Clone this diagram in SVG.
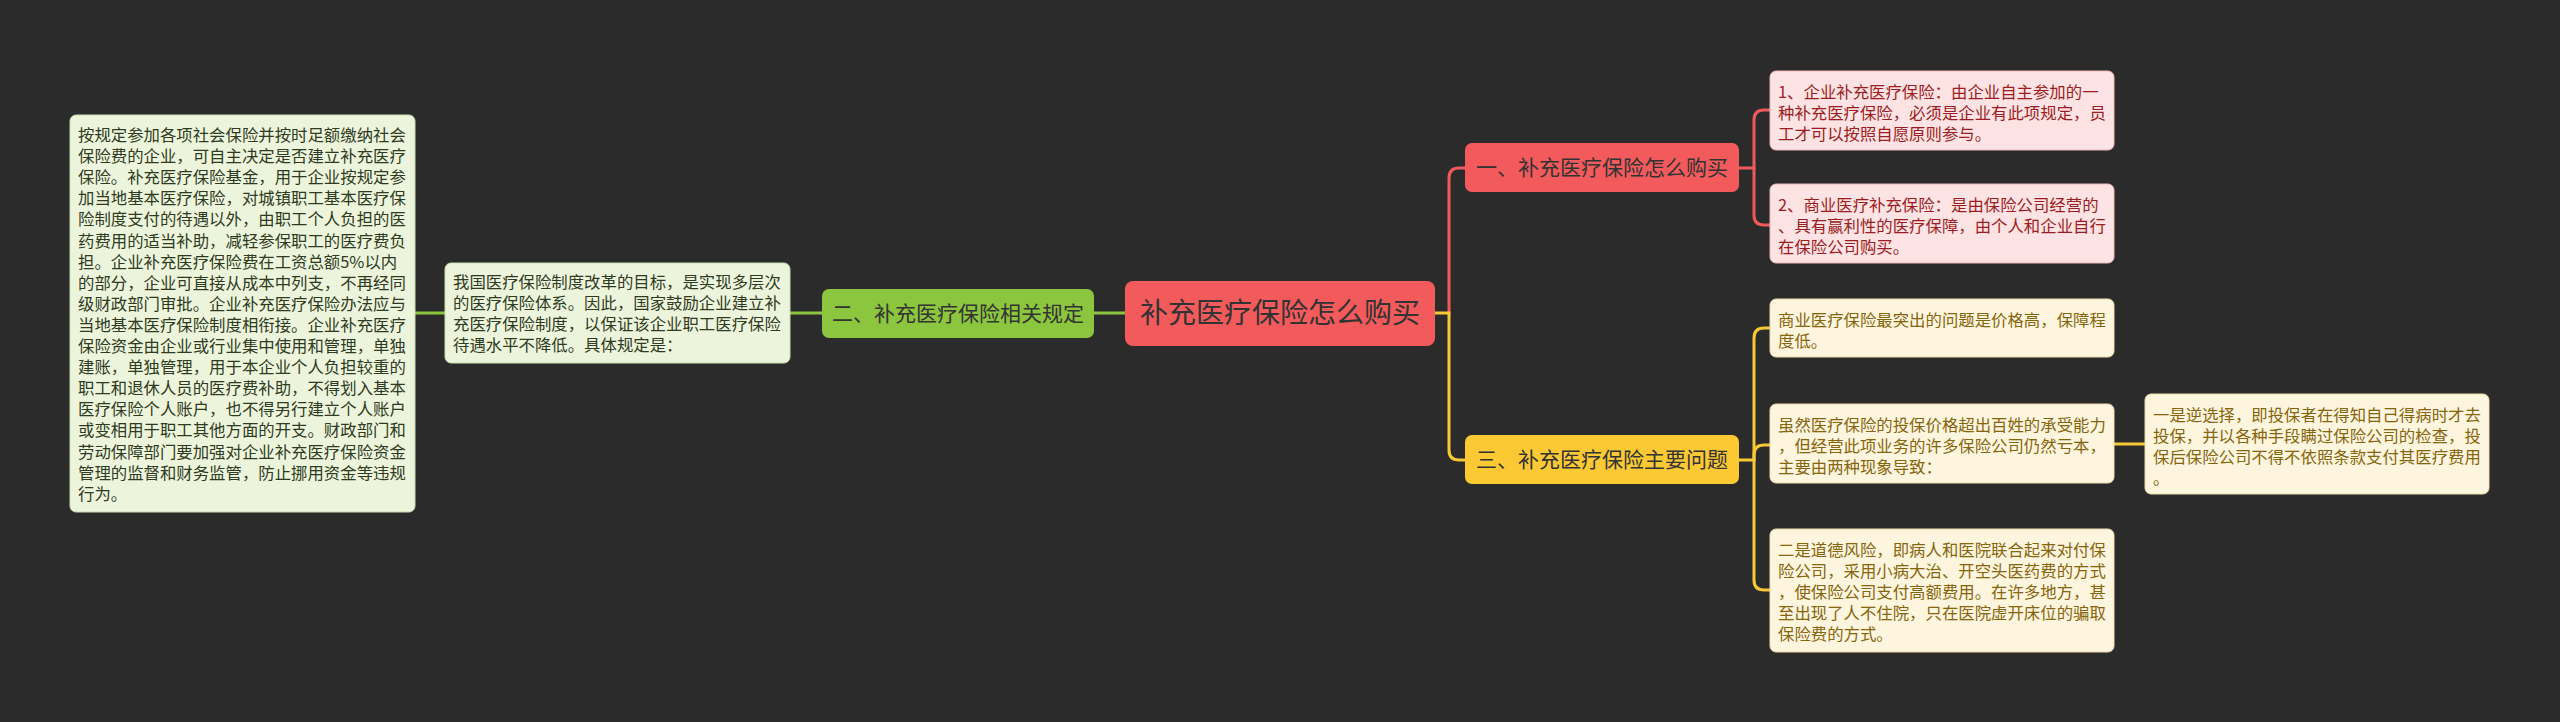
<svg xmlns="http://www.w3.org/2000/svg" width="2560" height="722" viewBox="0 0 2560 722">
<style>
text{font-family:"Noto Sans CJK SC","Noto Sans",sans-serif;}
.body{font-size:16.4px;}
.gbox{fill:#ecf5dc;stroke:#c9dcae;stroke-width:1;}
.gtxt{fill:#2f3a22;}
.pbox{fill:#fde3e3;stroke:#f0b9b9;stroke-width:1;}
.ptxt{fill:#9b1c22;}
.ybox{fill:#fdf5dd;stroke:#ecdcae;stroke-width:1;}
.ytxt{fill:#86650e;}
.branch{font-size:21px;fill:#333;}
.conn{fill:none;stroke-width:3;stroke-linecap:round;}
.cg{stroke:#8cc63e;}
.cr{stroke:#f05a5c;}
.cy{stroke:#f8c934;}
</style>
<rect x="0" y="0" width="2560" height="722" fill="#2b2b2b"/>
<g id="connectors">
<path class="conn cg" d="M415,313 H445"/>
<path class="conn cg" d="M790,313 H822"/>
<path class="conn cg" d="M1094,313 H1125"/>
<path class="conn cr" d="M1449,313 V178 Q1449,168 1459,168 H1465"/>
<path class="conn cy" d="M1435,313 H1449 V450 Q1449,460 1459,460 H1465"/>
<path class="conn cr" d="M1739,168 H1754"/>
<path class="conn cr" d="M1754,168 V120 Q1754,110 1764,110 H1770"/>
<path class="conn cr" d="M1754,168 V215 Q1754,225 1764,225 H1770"/>
<path class="conn cy" d="M1739,460 H1754"/>
<path class="conn cy" d="M1754,460 V338 Q1754,328 1764,328 H1770"/>
<path class="conn cy" d="M1754,460 V455 Q1754,445 1764,445 H1770"/>
<path class="conn cy" d="M1754,460 V580 Q1754,590 1764,590 H1770"/>
<path class="conn cy" d="M2114,444 H2145"/>
</g>
<g id="center">
<rect x="1125" y="281" width="310" height="65" rx="8" fill="#f25a5c"/>
<text x="1280" y="323" text-anchor="middle" style="font-size:28px" fill="#333">补充医疗保险怎么购买</text>
</g>
<g id="branch2">
<rect x="822" y="289" width="272" height="49" rx="7" fill="#8cc63e"/>
<text class="branch" x="958" y="320.5" text-anchor="middle">二、补充医疗保险相关规定</text>
</g>
<g id="branch1">
<rect x="1465" y="143" width="274" height="49" rx="7" fill="#f25a5c"/>
<text class="branch" x="1602" y="175" text-anchor="middle">一、补充医疗保险怎么购买</text>
</g>
<g id="branch3">
<rect x="1465" y="435" width="274" height="49" rx="7" fill="#fbc934"/>
<text class="branch" x="1602" y="467" text-anchor="middle">三、补充医疗保险主要问题</text>
</g>
<g id="intro">
<rect class="gbox" x="445" y="263" width="345" height="100" rx="6"/>
<text class="body gtxt" x="453" y="288"><tspan x="453">我国医疗保险制度改革的目标，是实现多层次</tspan><tspan x="453" dy="21">的医疗保险体系。因此，国家鼓励企业建立补</tspan><tspan x="453" dy="21">充医疗保险制度，以保证该企业职工医疗保险</tspan><tspan x="453" dy="21">待遇水平不降低。具体规定是：</tspan></text>
</g>
<g id="rules">
<rect class="gbox" x="70" y="115" width="345" height="397" rx="6"/>
<text class="body gtxt" x="78" y="141"><tspan x="78">按规定参加各项社会保险并按时足额缴纳社会</tspan><tspan x="78" dy="21.1">保险费的企业，可自主决定是否建立补充医疗</tspan><tspan x="78" dy="21.1">保险。补充医疗保险基金，用于企业按规定参</tspan><tspan x="78" dy="21.1">加当地基本医疗保险，对城镇职工基本医疗保</tspan><tspan x="78" dy="21.1">险制度支付的待遇以外，由职工个人负担的医</tspan><tspan x="78" dy="21.1">药费用的适当补助，减轻参保职工的医疗费负</tspan><tspan x="78" dy="21.1">担。企业补充医疗保险费在工资总额5%以内</tspan><tspan x="78" dy="21.1">的部分，企业可直接从成本中列支，不再经同</tspan><tspan x="78" dy="21.1">级财政部门审批。企业补充医疗保险办法应与</tspan><tspan x="78" dy="21.1">当地基本医疗保险制度相衔接。企业补充医疗</tspan><tspan x="78" dy="21.1">保险资金由企业或行业集中使用和管理，单独</tspan><tspan x="78" dy="21.1">建账，单独管理，用于本企业个人负担较重的</tspan><tspan x="78" dy="21.1">职工和退休人员的医疗费补助，不得划入基本</tspan><tspan x="78" dy="21.1">医疗保险个人账户，也不得另行建立个人账户</tspan><tspan x="78" dy="21.1">或变相用于职工其他方面的开支。财政部门和</tspan><tspan x="78" dy="21.1">劳动保障部门要加强对企业补充医疗保险资金</tspan><tspan x="78" dy="21.1">管理的监督和财务监管，防止挪用资金等违规</tspan><tspan x="78" dy="21.1">行为。</tspan></text>
</g>
<g id="p1">
<rect class="pbox" x="1770" y="71" width="344" height="79" rx="6"/>
<text class="body ptxt" x="1778" y="98"><tspan x="1778">1、企业补充医疗保险：由企业自主参加的一</tspan><tspan x="1778" dy="21">种补充医疗保险，必须是企业有此项规定，员</tspan><tspan x="1778" dy="21">工才可以按照自愿原则参与。</tspan></text>
</g>
<g id="p2">
<rect class="pbox" x="1770" y="184" width="344" height="79" rx="6"/>
<text class="body ptxt" x="1778" y="211"><tspan x="1778">2、商业医疗补充保险：是由保险公司经营的</tspan><tspan x="1778" dy="21">、具有赢利性的医疗保障，由个人和企业自行</tspan><tspan x="1778" dy="21">在保险公司购买。</tspan></text>
</g>
<g id="y1">
<rect class="ybox" x="1770" y="299" width="344" height="58" rx="6"/>
<text class="body ytxt" x="1778" y="326"><tspan x="1778">商业医疗保险最突出的问题是价格高，保障程</tspan><tspan x="1778" dy="21">度低。</tspan></text>
</g>
<g id="y2">
<rect class="ybox" x="1770" y="404" width="344" height="79" rx="6"/>
<text class="body ytxt" x="1778" y="431"><tspan x="1778">虽然医疗保险的投保价格超出百姓的承受能力</tspan><tspan x="1778" dy="21">，但经营此项业务的许多保险公司仍然亏本，</tspan><tspan x="1778" dy="21">主要由两种现象导致：</tspan></text>
</g>
<g id="y3">
<rect class="ybox" x="1770" y="529" width="344" height="123" rx="6"/>
<text class="body ytxt" x="1778" y="556"><tspan x="1778">二是道德风险，即病人和医院联合起来对付保</tspan><tspan x="1778" dy="21">险公司，采用小病大治、开空头医药费的方式</tspan><tspan x="1778" dy="21">，使保险公司支付高额费用。在许多地方，甚</tspan><tspan x="1778" dy="21">至出现了人不住院，只在医院虚开床位的骗取</tspan><tspan x="1778" dy="21">保险费的方式。</tspan></text>
</g>
<g id="y4">
<rect class="ybox" x="2145" y="394" width="344" height="100" rx="6"/>
<text class="body ytxt" x="2153" y="421"><tspan x="2153">一是逆选择，即投保者在得知自己得病时才去</tspan><tspan x="2153" dy="21">投保，并以各种手段瞒过保险公司的检查，投</tspan><tspan x="2153" dy="21">保后保险公司不得不依照条款支付其医疗费用</tspan><tspan x="2153" dy="21">。</tspan></text>
</g>
</svg>
